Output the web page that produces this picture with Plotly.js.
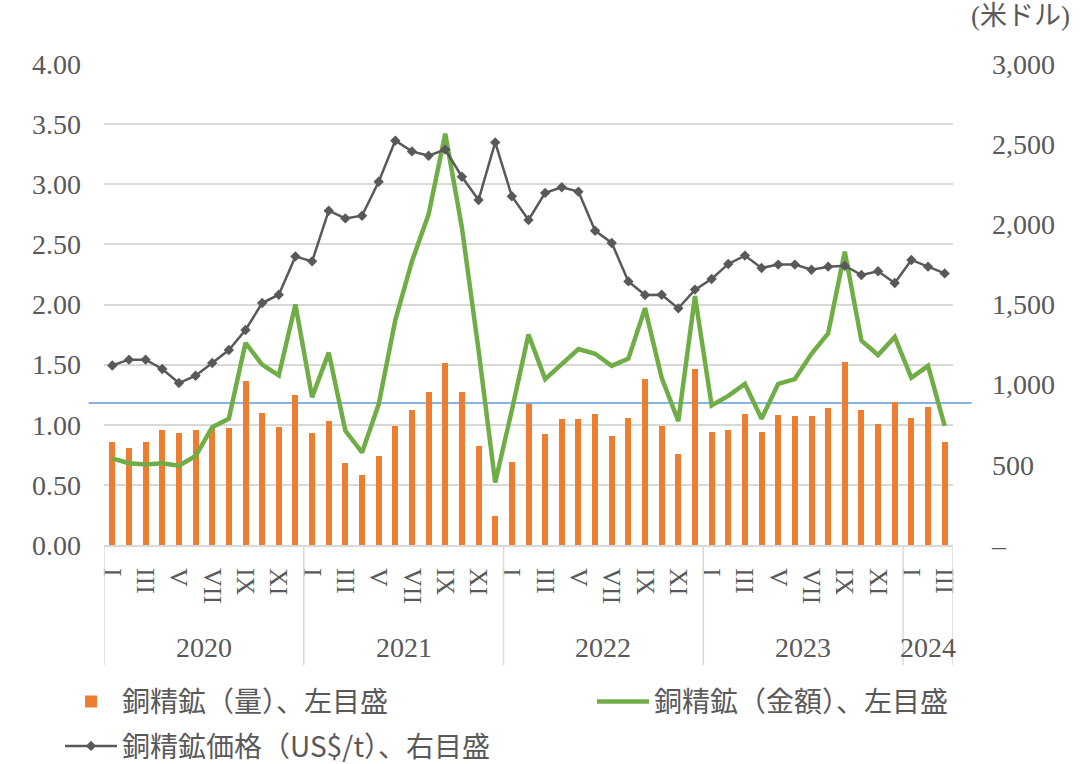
<!DOCTYPE html>
<html><head><meta charset="utf-8">
<script src="https://cdn.plot.ly/plotly-3.0.1.min.js"></script>
<style>html,body{margin:0;padding:0;background:#fff;}#chart{width:1084px;height:764px;}</style>
</head><body><div id="chart"></div>
<script>
// ---- data ----
const years = ['2020','2021','2022','2023','2024'];
const monthsPerYear = [12,12,12,12,3];
const romanMonths = ['I','II','III','IV','V','VI','VII','VIII','IX','X','XI','XII'];
const qty = [0.86,0.81,0.86,0.96,0.93,0.96,0.97,0.97,1.36,1.10,0.98,1.25,
             0.93,1.03,0.68,0.58,0.74,0.99,1.12,1.27,1.51,1.27,0.82,0.24,
             0.69,1.17,0.92,1.05,1.05,1.09,0.91,1.06,1.38,0.99,0.76,1.46,
             0.94,0.96,1.09,0.94,1.08,1.07,1.07,1.14,1.52,1.12,1.01,1.19,
             1.06,1.15,0.86];
const amount = [0.72,0.68,0.67,0.68,0.66,0.74,0.98,1.05,1.68,1.50,1.41,2.00,
                1.23,1.60,0.95,0.77,1.17,1.87,2.36,2.75,3.42,2.64,1.62,0.52,
                1.12,1.75,1.38,1.50,1.63,1.59,1.49,1.55,1.97,1.39,1.03,2.07,
                1.16,1.24,1.34,1.05,1.34,1.38,1.59,1.76,2.44,1.70,1.58,1.73,
                1.39,1.49,0.99];
const price = [1120,1156,1156,1098,1010,1056,1135,1216,1341,1509,1561,1800,
               1769,2085,2037,2054,2266,2522,2455,2428,2466,2297,2152,2511,
               2175,2027,2196,2231,2204,1960,1884,1644,1559,1561,1476,1593,
               1659,1753,1805,1728,1749,1749,1717,1736,1742,1684,1707,1634,
               1778,1736,1694];
const refLine = 1.18;
const leftTicks = [0,0.5,1,1.5,2,2.5,3,3.5,4];
const leftTickText = ['0.00','0.50','1.00','1.50','2.00','2.50','3.00','3.50','4.00'];
const rightTicks = [0,500,1000,1500,2000,2500,3000];
const rightTickText = ['–','500','1,000','1,500','2,000','2,500','3,000'];
const seriesNames = ['銅精鉱（量）、左目盛','銅精鉱（金額）、左目盛','銅精鉱価格（US$/t）、右目盛'];
const unitLabel = '(米ドル)';

// ---- build x positions ----
const x = [], tickvals = [], ticktext = [], yearCenters = [], bounds = [-0.5];
let idx = 0;
monthsPerYear.forEach((n, yi) => {
  const start = idx;
  for (let m = 0; m < n; m++) {
    x.push(idx);
    if (m % 2 === 0) { tickvals.push(idx); ticktext.push(romanMonths[m]); }
    idx++;
  }
  yearCenters.push((start + idx - 1) / 2);
  bounds.push(idx - 0.5);
});

const FONT = "'Liberation Serif', 'Noto Sans CJK JP', serif";
const CJK = "'Noto Sans CJK JP', 'Liberation Serif', sans-serif";
const GREY = '#595959';

const traces = [
  {type:'bar', x:x, y:qty, name:seriesNames[0], marker:{color:'#ED7D31'}, width:0.36, yaxis:'y',
   legend:'legend', legendgroup:'a'},
  {type:'scatter', mode:'lines', x:x, y:amount, name:seriesNames[1], line:{color:'#70AD47', width:4.5}, yaxis:'y',
   legend:'legend2'},
  {type:'scatter', mode:'lines+markers', x:x, y:price, name:seriesNames[2], line:{color:GREY, width:2.5},
   marker:{symbol:'diamond', size:8, color:GREY}, yaxis:'y2', legend:'legend', legendgroup:'b'}
];

const shapes = bounds.map(b => ({type:'line', xref:'x', yref:'paper', x0:b, x1:b, y0:0, y1:-0.25,
  line:{color:'#D9D9D9', width:1.5}}));
shapes.push({type:'line', xref:'paper', yref:'y', x0:-0.018, x1:1.022, y0:refLine, y1:refLine,
  line:{color:'#5B9BD5', width:1.5}, layer:'between'});

const annotations = years.map((yr, i) => ({xref:'x', yref:'paper', x:yearCenters[i], y:-0.214,
  text:yr, showarrow:false, font:{family:FONT, size:28, color:GREY}, yanchor:'middle'}));
annotations.push({xref:'paper', yref:'paper', x:1.08, y:1.1, text:unitLabel, showarrow:false,
  font:{family:FONT, size:27, color:GREY}, xanchor:'center', yanchor:'middle'});

const legendBase = {orientation:'v', xanchor:'left', yanchor:'top',
  font:{family:CJK, size:28, color:GREY}, itemwidth:52, traceorder:'grouped', tracegroupgap:5,
  bgcolor:'rgba(0,0,0,0)'};

const layout = {
  width:1084, height:764,
  margin:{l:104, r:131, t:64, b:219, autoexpand:false},
  paper_bgcolor:'#fff', plot_bgcolor:'#fff',
  showlegend:true,
  bargap:0,
  xaxis:{range:[-0.5, 50.5], tickvals:tickvals, ticktext:ticktext, tickangle:90,
    tickfont:{family:FONT, size:26, color:GREY}, showgrid:false, zeroline:false,
    showline:true, linecolor:'#D9D9D9', linewidth:1.5, ticks:'', ticklabelstandoff:16},
  yaxis:{range:[0,4], tickvals:leftTicks, ticktext:leftTickText, showgrid:true, gridcolor:'#D9D9D9', gridwidth:1.5,
    zeroline:false, tickfont:{family:FONT, size:28, color:GREY}, ticks:'', ticklabelstandoff:22},
  yaxis2:{range:[0,3000], tickvals:rightTicks, ticktext:rightTickText, overlaying:'y', side:'right',
    showgrid:false, zeroline:false, tickfont:{family:FONT, size:28, color:GREY}, ticks:'', ticklabelstandoff:38},
  legend:Object.assign({}, legendBase, {x:-0.0518, y:-0.274}),
  legend2:Object.assign({}, legendBase, {x:0.5748, y:-0.274}),
  shapes:shapes,
  annotations:annotations
};

Plotly.newPlot('chart', traces, layout, {displayModeBar:false, responsive:false});
</script>
</body></html>
